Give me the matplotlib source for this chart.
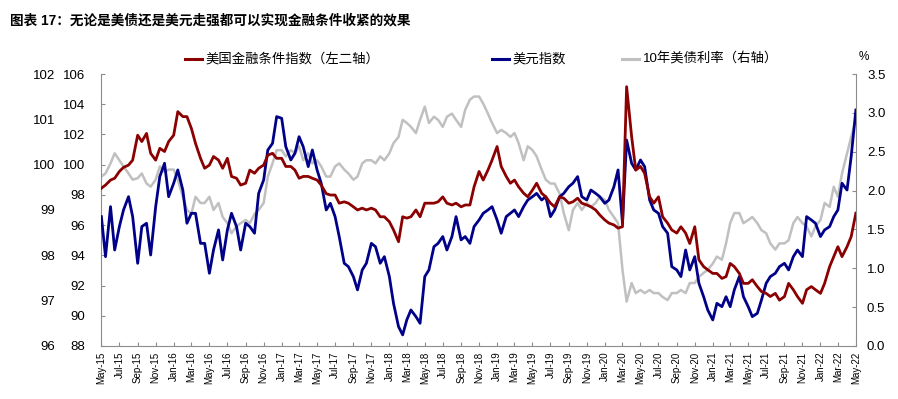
import numpy as np
import pandas as pd
import matplotlib
matplotlib.use('Agg')
from matplotlib import pyplot as plt
import matplotlib.dates as mdates
from matplotlib.lines import Line2D
from matplotlib.ticker import MultipleLocator, FormatStrFormatter

plt.rcParams['font.family'] = ['Liberation Sans', 'Noto Sans CJK SC', 'DejaVu Sans']

# semi-monthly readings, May-15 .. May-22
dates = pd.date_range('2015-05-01', '2022-05-01', freq='SMS')

# 美国金融条件指数 (左二轴)
fci = [99.48, 99.55, 99.66, 99.70, 99.85, 99.94, 99.99, 100.10, 100.65, 100.51,
       100.69, 100.25, 100.10, 100.36, 100.29, 100.51, 100.65, 101.17, 101.06, 101.06,
       100.80, 100.47, 100.14, 99.92, 99.99, 100.18, 100.10, 99.92, 100.14, 99.74,
       99.70, 99.55, 99.59, 99.88, 99.81, 99.92, 99.99, 100.21, 100.25, 100.14,
       100.14, 99.96,
       99.96, 99.88, 99.70, 99.74, 99.74, 99.70, 99.66, 99.55, 99.36, 99.33,
       99.33, 99.15, 99.18, 99.15, 99.07, 99.00, 99.04, 99.00, 99.04, 99.00,
       98.85, 98.85, 98.74, 98.56, 98.30, 98.85, 98.82, 98.85, 99.00, 98.85,
       99.15, 99.15, 99.15, 99.18, 99.29, 99.15, 99.11, 99.15, 99.07, 99.11,
       99.11, 99.51,
       99.85, 99.66, 99.88, 100.10, 100.40, 99.96, 99.74, 99.59, 99.66, 99.51,
       99.37, 99.29, 99.44, 99.59, 99.37, 99.29, 99.15, 99.07, 99.29, 99.26,
       99.15, 99.18, 99.26, 99.15, 99.11, 99.07, 99.00, 98.89, 98.78, 98.71,
       98.67, 98.60, 98.63, 101.72, 100.62, 99.88, 99.96, 99.81, 99.29, 99.15,
       99.29, 98.85,
       98.71, 98.56, 98.49, 98.63, 98.49, 98.26, 98.63, 97.90, 97.75, 97.68,
       97.60, 97.60, 97.49, 97.53, 97.82, 97.75, 97.60, 97.38, 97.38, 97.46,
       97.31, 97.20, 97.16, 97.09, 97.16, 97.01, 97.09, 97.38, 97.24, 97.09,
       96.94, 97.24, 97.31, 97.24, 97.16, 97.38, 97.75, 97.97, 98.19, 97.97,
       98.19, 98.41, 98.93]

# 美元指数
dxy = [96.56, 93.91, 97.22, 94.35, 95.90, 97.00, 97.88, 96.56, 93.47, 95.90,
       96.12, 94.02, 97.22, 99.21, 100.09, 97.88, 98.77, 99.65, 98.32, 96.12,
       96.78, 96.78, 94.79, 94.79, 92.81, 94.35, 95.68, 93.69, 95.68, 96.78,
       95.90, 94.35, 96.12, 95.90, 95.46, 98.10, 98.99, 100.97, 101.41, 103.18,
       103.07, 101.19,
       100.31, 100.75, 101.85, 101.19, 99.87, 100.97, 99.65, 98.77, 97.00, 97.44,
       96.56, 95.24, 93.47, 93.25, 92.59, 91.71, 93.03, 93.47, 94.79, 94.57,
       93.47, 93.91, 92.59, 90.82, 89.28, 88.73, 89.72, 90.38, 89.94, 89.50,
       92.59, 93.03, 94.57, 94.79, 95.24, 94.35, 95.24, 96.56, 95.02, 95.24,
       94.79, 95.90,
       96.34, 96.78, 97.00, 97.22, 96.34, 95.46, 96.56, 96.78, 97.00, 96.56,
       97.22, 97.66, 97.88, 98.10, 97.66, 97.88, 96.56, 97.00, 97.88, 98.10,
       98.54, 98.77, 99.21, 97.88, 97.66, 98.32, 98.10, 97.88, 97.44, 97.66,
       98.54, 99.65, 96.12, 101.63, 100.09, 99.65, 100.31, 99.87, 97.66, 97.00,
       96.78, 95.90,
       95.46, 93.25, 93.03, 92.59, 94.35, 93.03, 93.91, 92.15, 91.26, 90.38,
       89.72, 90.82, 90.60, 91.26, 90.60, 91.71, 92.59, 91.26, 90.60, 89.94,
       90.16, 91.04, 92.15, 92.59, 92.81, 93.25, 93.47, 93.03, 93.91, 94.35,
       93.91, 96.56, 96.34, 96.12, 95.24, 95.68, 95.90, 96.56, 97.00, 98.77,
       98.32, 100.53, 103.62]

# 10年美债利率 (右轴), %
ust10 = [2.18, 2.22, 2.35, 2.48, 2.39, 2.31, 2.22, 2.14, 2.16, 2.22,
         2.09, 2.05, 2.14, 2.31, 2.24, 2.27, 2.27, 2.14, 1.92, 1.75,
         1.70, 1.92, 1.84, 1.84, 1.92, 1.75, 1.84, 1.66, 1.58, 1.45,
         1.54, 1.58, 1.62, 1.58, 1.70, 1.75, 1.84, 2.18, 2.35, 2.52,
         2.52, 2.44,
         2.52, 2.48, 2.57, 2.39, 2.48, 2.35, 2.39, 2.31, 2.18, 2.18,
         2.31, 2.35, 2.27, 2.22, 2.14, 2.18, 2.35, 2.39, 2.39, 2.35,
         2.44, 2.39, 2.48, 2.61, 2.69, 2.91, 2.87, 2.82, 2.74, 2.91,
         3.08, 2.87, 2.95, 2.91, 2.82, 2.95, 2.99, 2.91, 2.82, 3.04,
         3.17, 3.21,
         3.21, 3.12, 2.99, 2.87, 2.74, 2.78, 2.74, 2.69, 2.74, 2.61,
         2.39, 2.57, 2.52, 2.44, 2.27, 2.14, 2.09, 2.09, 1.96, 1.71,
         1.49, 1.75, 1.84, 1.75, 1.84, 1.79, 1.84, 1.92, 1.88, 1.75,
         1.66, 1.58, 0.98, 0.57, 0.81, 0.68, 0.72, 0.68, 0.72, 0.68,
         0.68, 0.63,
         0.59, 0.68, 0.68, 0.72, 0.68, 0.81, 0.81, 0.89, 0.94, 0.98,
         1.06, 1.15, 1.11, 1.32, 1.58, 1.71, 1.71, 1.58, 1.62, 1.66,
         1.58, 1.49, 1.45, 1.32, 1.24, 1.32, 1.32, 1.36, 1.58, 1.66,
         1.58, 1.54, 1.41, 1.54, 1.62, 1.84, 1.79, 2.05, 1.92, 2.22,
         2.48, 2.69, 2.91]

legend_labels = ['美国金融条件指数（左二轴）', '美元指数', '10年美债利率（右轴）']
title = '图表 17：无论是美债还是美元走强都可以实现金融条件收紧的效果'

red = '#8B0000'
blue = '#000088'
grey = '#C0C0C0'
spine_c = '#8C8C8C'

fig = plt.figure(figsize=(8.98, 3.99), dpi=100)
ax = fig.add_axes([0.1129, 0.133, 0.8402, 0.6815])  # yield, right axis
ax_d = ax.twinx()   # dollar index
ax_f = ax.twinx()   # FCI

ax.plot(dates, ust10, color=grey, lw=1.8)
ax_d.plot(dates, dxy, color=blue, lw=2.0)
ax_f.plot(dates, fci, color=red, lw=2.0)

ax.set_xlim(pd.Timestamp('2015-05-01'), pd.Timestamp('2022-05-01'))
ax.set_ylim(0, 3.5)
ax_d.set_ylim(88, 106)
ax_f.set_ylim(96, 102)

# right axis (yield)
ax.yaxis.tick_right()
ax.yaxis.set_major_locator(MultipleLocator(0.5))
ax.yaxis.set_major_formatter(FormatStrFormatter('%.1f'))
ax.tick_params(axis='y', which='both', right=True, left=False, direction='in',
               length=3, color=spine_c, pad=8, labelsize=9.5)

# dollar index on left
ax_d.yaxis.tick_left()
ax_d.yaxis.set_major_locator(MultipleLocator(2))
ax_d.tick_params(axis='y', direction='in', length=3, color=spine_c, pad=12,
                 labelsize=9.5)

# FCI further left, no ticks
ax_f.yaxis.tick_left()
ax_f.yaxis.set_major_locator(MultipleLocator(1))
ax_f.tick_params(axis='y', length=0, pad=33, labelsize=9.5)

for a in (ax, ax_d, ax_f):
    for s in a.spines.values():
        s.set_visible(False)
for s in ('left', 'right', 'bottom'):
    ax.spines[s].set_visible(True)
    ax.spines[s].set_color(spine_c)
    ax.spines[s].set_linewidth(0.8)

ax.xaxis.set_major_locator(mdates.MonthLocator(bymonth=[1, 3, 5, 7, 9, 11]))
ax.xaxis.set_major_formatter(mdates.DateFormatter('%b-%y'))
ax.tick_params(axis='x', direction='in', length=3, color=spine_c, pad=4,
               labelsize=7, labelrotation=90)

# legend
handles = [(0.206, red), (0.548, blue), (0.693, grey)]
ly = 1 - 59 / 399
for (x0, c), lab in zip(handles, legend_labels):
    fig.add_artist(Line2D([x0, x0 + 0.019], [ly, ly], color=c, lw=2.2,
                          transform=fig.transFigure))
    fig.text(x0 + 0.023, ly, lab, fontsize=9.6, va='center', ha='left')

fig.text(0.962, 1 - 57 / 399, '%', fontsize=8.5, ha='center', va='center')
fig.text(0.011, 1 - 21 / 399, title, fontsize=9.8, fontweight='bold',
         ha='left', va='center')

fig.savefig('out.png', dpi=100)
